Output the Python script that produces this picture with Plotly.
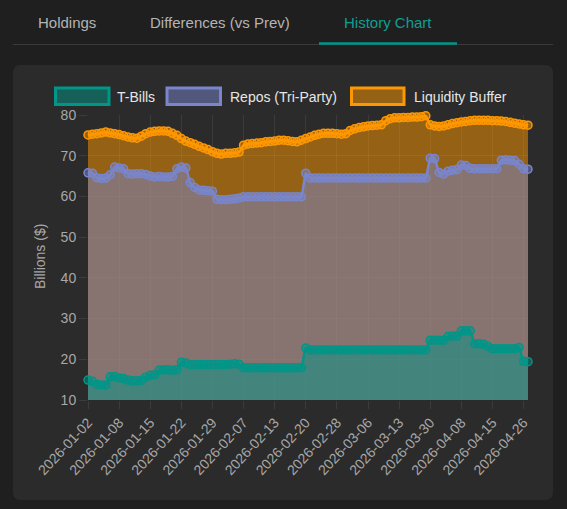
import plotly.graph_objects as go

# ---------------- data ----------------
tick_labels = ["2026-01-02", "2026-01-08", "2026-01-15", "2026-01-22", "2026-01-29",
               "2026-02-07", "2026-02-13", "2026-02-20", "2026-02-28", "2026-03-06",
               "2026-03-13", "2026-03-30", "2026-04-08", "2026-04-15", "2026-04-26"]
tick_step = 7

t_bills = [14.9, 14.6, 13.8, 13.7, 13.7, 15.7, 15.8, 15.4, 15.3, 14.9,
           14.7, 14.7, 14.8, 15.6, 16.1, 16.2, 17.3, 17.4, 17.4, 17.3,
           17.4, 19.3, 19.1, 18.7, 18.7, 18.7, 18.7, 18.7, 18.7, 18.7,
           18.7, 18.7, 18.8, 18.9, 18.8, 17.9, 17.9, 17.9, 17.9, 17.9,
           17.9, 17.9, 17.9, 17.9, 17.9, 17.9, 17.9, 17.9, 17.9, 22.8,
           22.3, 22.3, 22.3, 22.3, 22.3, 22.3, 22.3, 22.3, 22.3, 22.3,
           22.3, 22.3, 22.3, 22.3, 22.3, 22.3, 22.3, 22.3, 22.3, 22.3,
           22.3, 22.3, 22.3, 22.3, 22.3, 22.3, 22.3, 24.7, 24.7, 24.7,
           24.7, 25.6, 25.7, 25.7, 27.0, 27.0, 27.0, 23.8, 23.8, 23.7,
           23.2, 22.6, 22.6, 22.6, 22.6, 22.6, 22.6, 22.9, 19.5, 19.4]

repos = [65.8, 65.7, 64.6, 64.4, 64.5, 65.3, 67.2, 67.0, 66.8, 65.6,
         65.5, 65.6, 65.6, 65.4, 65.0, 64.8, 64.9, 64.8, 64.8, 64.9,
         66.8, 67.2, 67.0, 63.4, 62.2, 61.6, 61.5, 61.4, 61.3, 59.3,
         59.2, 59.2, 59.3, 59.4, 59.6, 59.9, 59.9, 59.9, 59.9, 59.9,
         59.9, 59.9, 59.9, 59.9, 59.9, 59.9, 59.9, 59.9, 59.9, 65.7,
         64.5, 64.5, 64.5, 64.5, 64.5, 64.5, 64.5, 64.5, 64.5, 64.5,
         64.5, 64.5, 64.5, 64.5, 64.5, 64.5, 64.5, 64.5, 64.5, 64.5,
         64.5, 64.5, 64.5, 64.5, 64.5, 64.5, 64.5, 69.4, 69.3, 65.9,
         65.5, 66.2, 66.4, 66.6, 67.7, 67.6, 66.9, 66.8, 66.8, 66.8,
         66.8, 66.8, 66.8, 68.9, 69.0, 68.9, 68.8, 67.9, 66.8, 66.7]

liquidity = [75.1, 75.3, 75.4, 75.6, 75.8, 75.6, 75.4, 75.2, 74.9, 74.6,
             74.4, 74.3, 74.8, 75.4, 75.8, 76.0, 76.1, 76.1, 76.0, 75.5,
             75.0, 74.2, 73.6, 73.2, 72.8, 72.3, 71.9, 71.5, 71.0, 70.6,
             70.4, 70.6, 70.6, 70.7, 70.9, 72.6, 72.9, 73.0, 73.1, 73.2,
             73.4, 73.5, 73.6, 73.8, 73.8, 73.7, 73.5, 73.4, 73.8, 74.2,
             74.6, 75.0, 75.3, 75.5, 75.5, 75.5, 75.4, 75.3, 75.4, 76.2,
             76.6, 76.9, 77.1, 77.3, 77.4, 77.5, 77.6, 78.6, 79.1, 79.3,
             79.3, 79.4, 79.4, 79.5, 79.5, 79.6, 79.8, 77.6, 77.3, 77.2,
             77.3, 77.6, 77.9, 78.1, 78.3, 78.4, 78.6, 78.7, 78.7, 78.7,
             78.7, 78.6, 78.6, 78.5, 78.4, 78.2, 78.0, 77.8, 77.6, 77.5]

series_names = ["T-Bills", "Repos (Tri-Party)", "Liquidity Buffer"]
series_colors = ["#009688", "#7986cb", "#ff9800"]
series_fills = ["rgba(0,150,136,0.5)", "rgba(121,134,203,0.5)", "rgba(255,152,0,0.5)"]
series_values = [t_bills, repos, liquidity]

# ---------------- layout helpers ----------------
W, H = 567, 509
PL, PR, PT, PB = 88, 528, 115, 400
FONT = "Liberation Sans, Arial, Helvetica, sans-serif"


def px(x):
    return (x - PL) / (PR - PL)


def py(y):
    return (PB - y) / (PB - PT)


n = len(t_bills)
xs = list(range(n))

fig = go.Figure()
# draw order: last dataset first (as the original)
for name, col, fc, vals in reversed(list(zip(series_names, series_colors, series_fills, series_values))):
    fig.add_trace(go.Scatter(
        x=xs, y=vals, name=name, mode="lines+markers",
        line=dict(color=col, width=2.5, shape="spline", smoothing=0.5),
        marker=dict(size=8, color=fc, line=dict(color=col, width=1.5)),
        fill="tozeroy", fillcolor=fc, cliponaxis=False, showlegend=False,
    ))

shapes = []
annotations = []

# card background
x0, x1 = px(13), px(553)
y0, y1 = py(500), py(65)
rx, ry = 8 / (PR - PL), 8 / (PB - PT)
path = (f"M {x0+rx},{y1} L {x1-rx},{y1} Q {x1},{y1} {x1},{y1-ry} "
        f"L {x1},{y0+ry} Q {x1},{y0} {x1-rx},{y0} "
        f"L {x0+rx},{y0} Q {x0},{y0} {x0},{y0+ry} "
        f"L {x0},{y1-ry} Q {x0},{y1} {x0+rx},{y1} Z")
shapes.append(dict(type="path", path=path, xref="paper", yref="paper",
                   fillcolor="#2b2b2b", line=dict(width=0), layer="below"))

# tab bar
shapes.append(dict(type="line", xref="paper", yref="paper", x0=px(13), x1=px(553),
                   y0=py(44.5), y1=py(44.5), line=dict(color="#3a3a3a", width=1)))
shapes.append(dict(type="line", xref="paper", yref="paper", x0=px(319), x1=px(457),
                   y0=py(43.5), y1=py(43.5), line=dict(color="#009688", width=2.5)))
tabs = [("Holdings", 67, "#b4b4b4"), ("Differences (vs Prev)", 220, "#b4b4b4"),
        ("History Chart", 388, "#0f9e94")]
for txt, cx, col in tabs:
    annotations.append(dict(text=txt, x=px(cx), y=py(22), xref="paper", yref="paper",
                            xanchor="center", yanchor="middle", showarrow=False,
                            font=dict(family=FONT, size=15, color=col)))

# legend
legend_items = [(55.5, 109, 115), (167, 220.5, 228), (351.5, 404, 412)]
for (bx0, bx1, tx), name, col, fc in zip(legend_items, series_names, series_colors, series_fills):
    shapes.append(dict(type="rect", xref="paper", yref="paper", x0=px(bx0), x1=px(bx1),
                       y0=py(104.5), y1=py(88), fillcolor=fc, line=dict(color=col, width=3)))
    annotations.append(dict(text=name, x=px(tx), y=py(96.5), xref="paper", yref="paper",
                            xanchor="left", yanchor="middle", showarrow=False,
                            font=dict(family=FONT, size=14, color="#e6e6e6")))

# y-axis title
annotations.append(dict(text="Billions ($)", x=px(40), y=py(257), xref="paper", yref="paper",
                        xanchor="center", yanchor="middle", textangle=-90, showarrow=False,
                        font=dict(family=FONT, size=14, color="#a8a8a8")))

grid = "rgba(255,255,255,0.08)"
fig.update_layout(
    width=W, height=H,
    margin=dict(l=PL, r=W - PR, t=PT, b=H - PB, pad=0),
    paper_bgcolor="#1f1f1f", plot_bgcolor="rgba(0,0,0,0)",
    font=dict(family=FONT, size=14, color="#a8a8a8"),
    showlegend=False,
    shapes=shapes, annotations=annotations,
    xaxis=dict(range=[0, n - 1], tickmode="array",
               tickvals=[i * tick_step for i in range(len(tick_labels))],
               ticktext=tick_labels, tickangle=-47, showgrid=True, gridcolor=grid,
               ticks="outside", ticklen=8, tickcolor=grid, zeroline=False, showline=False,
               tickfont=dict(family=FONT, size=14, color="#a8a8a8")),
    yaxis=dict(range=[10, 80], dtick=10, showgrid=True, gridcolor=grid,
               ticks="outside", ticklen=8, tickcolor=grid, zeroline=False, showline=False,
               tickfont=dict(family=FONT, size=14, color="#a8a8a8")),
)

fig.write_html("out.html")
